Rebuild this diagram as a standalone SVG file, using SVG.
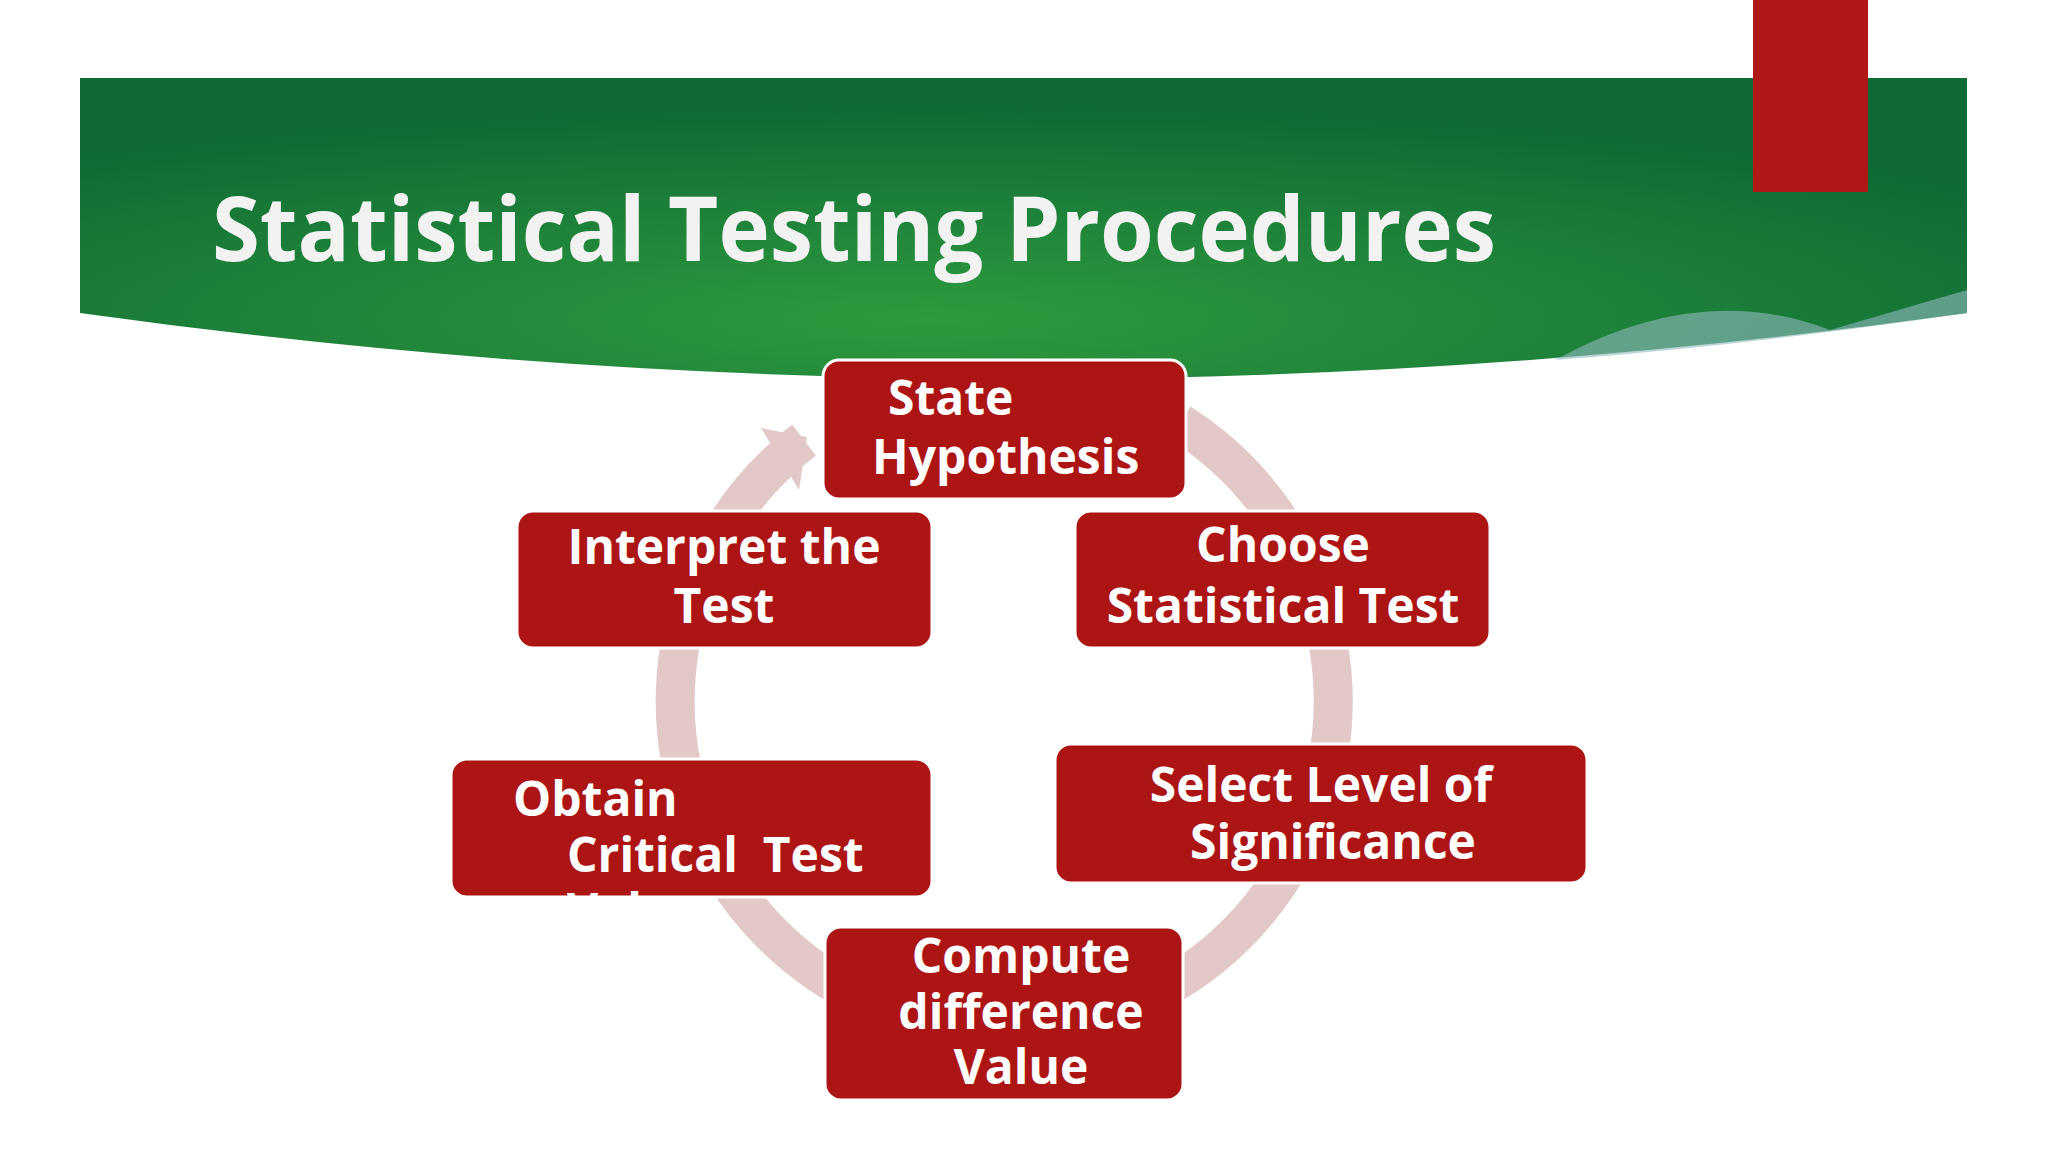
<svg xmlns="http://www.w3.org/2000/svg" width="2048" height="1152" viewBox="0 0 2048 1152">
<defs>
<radialGradient id="g" cx="0.45" cy="0.8" r="0.7">
<stop offset="0" stop-color="#2e9b3e"/><stop offset="1" stop-color="#0f6a35"/>
</radialGradient>
<style>
.b{fill:#ad1515;stroke:#fff;stroke-width:3}
.t{font-family:"Open Sans","Noto Sans",sans-serif;font-weight:700;font-size:48px;fill:#fff}
.c{text-anchor:middle}
</style>
</defs>
<rect width="2048" height="1152" fill="#fff"/>
<path d="M80 78 H1967 V313 Q1024 445 80 313 Z" fill="url(#g)"/>
<path d="M1555 360 Q1700 280 1830 330 L1967 290 V313 Q1750 345 1555 360 Z" fill="#8fb9c0" opacity="0.6"/>
<rect x="1753" y="0" width="115" height="192" fill="#b01818"/>
<text x="212" y="261" font-family="Open Sans,Noto Sans,sans-serif" font-weight="700" font-size="90" fill="#f2f2f2" textLength="1284" lengthAdjust="spacingAndGlyphs">Statistical Testing Procedures</text>
<g id="connectors">
<path d="M804 440 A329 329 0 1 0 1180 423" fill="none" stroke="#e3c8c8" stroke-width="39"/>
<polygon points="761,428 807,437 799,490" fill="#e3c8c8"/>
</g>
<g id="n1"><rect class="b" x="823" y="360" width="363" height="139" rx="16"/><text class="t" x="888" y="415">State</text><text class="t" x="872" y="474">Hypothesis</text></g>
<g id="n2"><rect class="b" x="1075" y="511" width="415" height="137" rx="16"/><text class="t c" x="1283" y="562">Choose</text><text class="t c" x="1283" y="623">Statistical Test</text></g>
<g id="n3"><rect class="b" x="1055" y="744" width="532" height="139" rx="16"/><text class="t c" x="1321" y="802">Select Level of</text><text class="t c" x="1333" y="859">Significance</text></g>
<g id="n4"><rect class="b" x="825" y="927" width="358" height="173" rx="16"/><text class="t c" x="1021" y="973">Compute</text><text class="t c" x="1021" y="1029">difference</text><text class="t c" x="1021" y="1084">Value</text></g>
<g id="n5"><rect class="b" x="451" y="759" width="481" height="138" rx="16"/><text class="t" x="513" y="816">Obtain</text><text class="t" x="567" y="872" xml:space="preserve">Critical  Test</text><text class="t" x="567" y="928">Value</text></g>
<g id="n6"><rect class="b" x="517" y="511" width="415" height="137" rx="16"/><text class="t c" x="724" y="564">Interpret the</text><text class="t c" x="724" y="623">Test</text></g>
</svg>
